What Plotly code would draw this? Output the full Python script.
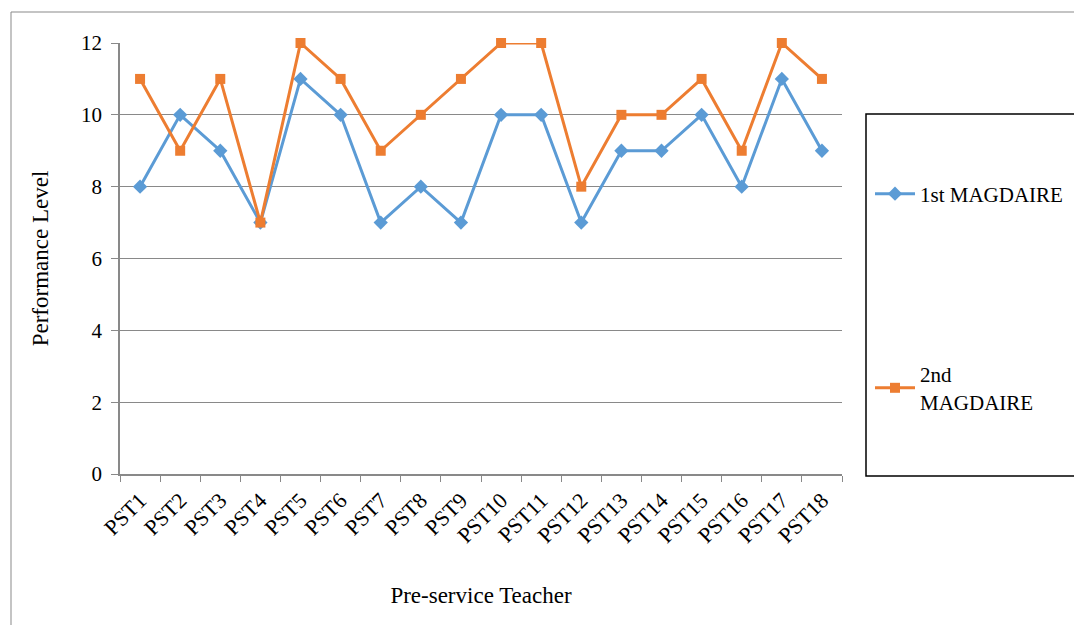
import plotly.graph_objects as go

categories = [f"PST{i}" for i in range(1, 19)]
first = [8, 10, 9, 7, 11, 10, 7, 8, 7, 10, 10, 7, 9, 9, 10, 8, 11, 9]
second = [11, 9, 11, 7, 12, 11, 9, 10, 11, 12, 12, 8, 10, 10, 11, 9, 12, 11]

OFF = 8  # page body margin
W, H = 1082 - OFF, 625 - OFF
# plot area in screen pixel coordinates
L, R, T, B = 120, 842, 43, 474

def px(x):
    return (x - L) / (R - L)

def py(y):
    return (B - y) / (B - T)

font = "Liberation Serif"

fig = go.Figure()
fig.add_trace(go.Scatter(x=categories, y=first, mode="lines+markers", name="1st MAGDAIRE",
                         line=dict(color="#5B9BD5", width=3),
                         marker=dict(symbol="diamond", size=11, color="#5B9BD5"),
                         cliponaxis=False, showlegend=True, legend="legend"))
fig.add_trace(go.Scatter(x=categories, y=second, mode="lines+markers", name="2nd<br>MAGDAIRE",
                         line=dict(color="#ED7D31", width=3),
                         marker=dict(symbol="square", size=10, color="#ED7D31"),
                         cliponaxis=False, showlegend=True, legend="legend2"))

fig.update_layout(
    width=W, height=H,
    margin=dict(l=L - OFF, r=(W + OFF) - R, t=T - OFF, b=(H + OFF) - B, pad=0),
    paper_bgcolor="white", plot_bgcolor="white",
    showlegend=True,
    font=dict(family=font, size=20, color="black"),
    legend=dict(x=px(870), y=py(194), xanchor="left", yanchor="middle",
                bgcolor="rgba(0,0,0,0)", font=dict(size=21, family=font), itemwidth=40),
    legend2=dict(x=px(870), y=py(388), xanchor="left", yanchor="middle",
                 bgcolor="rgba(0,0,0,0)", font=dict(size=21, family=font), itemwidth=40),
    xaxis=dict(
        type="category", range=[-0.5, 17.5],
        showline=True, linecolor="#898989", linewidth=1.5,
        ticks="outside", tickson="boundaries", ticklen=6, tickcolor="#898989",
        tickangle=-45, showgrid=False, zeroline=False, ticklabelstandoff=3,
        title=dict(text="Pre-service Teacher", font=dict(size=23, family=font), standoff=40),
        tickfont=dict(size=22, family=font),
    ),
    yaxis=dict(
        range=[0, 12], dtick=2,
        showline=True, linecolor="#898989", linewidth=1.5,
        ticks="outside", ticklen=7, tickcolor="#898989", ticklabelstandoff=5,
        showgrid=True, gridcolor="#898989", gridwidth=1, zeroline=False,
        title=dict(text="Performance Level", font=dict(size=23, family=font), standoff=26),
        tickfont=dict(size=21, family=font),
    ),
    shapes=[
        dict(type="rect", xref="paper", yref="paper",
             x0=px(866), x1=px(1077), y0=py(476), y1=py(114),
             line=dict(color="black", width=1.5), fillcolor="rgba(0,0,0,0)", layer="below"),
        dict(type="rect", xref="paper", yref="paper",
             x0=px(11), x1=px(1080), y0=py(640), y1=py(12),
             line=dict(color="#898989", width=1), fillcolor="rgba(0,0,0,0)", layer="below"),
    ],
)

fig.write_html("out.html")
